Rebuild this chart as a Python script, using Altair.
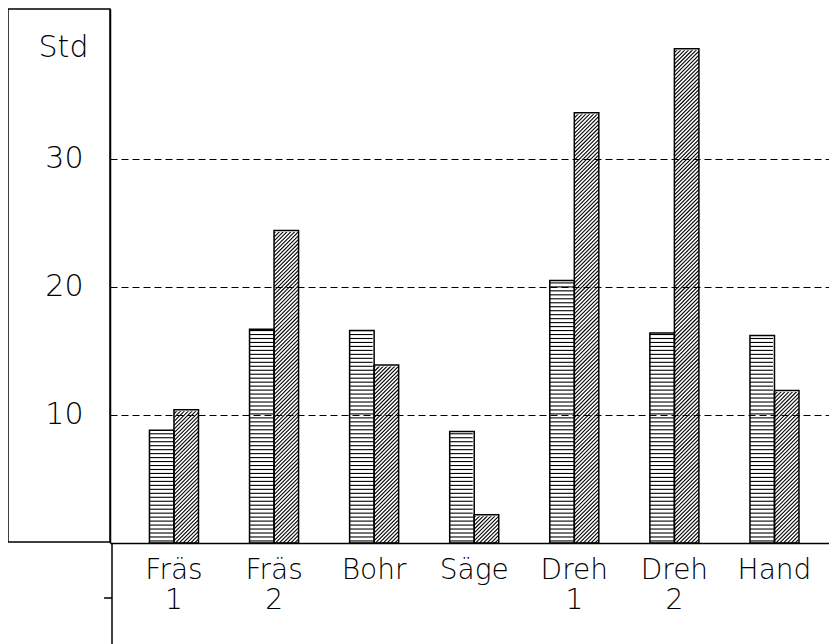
import altair as alt
import pandas as pd

# ---- data ----
categories = ["Fräs 1", "Fräs 2", "Bohr", "Säge", "Dreh 1", "Dreh 2", "Hand"]
series_a = [8.8, 16.7, 16.6, 8.7, 20.5, 16.4, 16.2]    # horizontally striped bars
series_b = [10.4, 24.4, 13.9, 2.2, 33.6, 38.6, 11.9]   # diagonally hatched bars
y_ticks = [10, 20, 30]
y_title = "Std"

rows = []
for c, a, b in zip(categories, series_a, series_b):
    rows.append({"cat": c, "series": "A", "value": a})
    rows.append({"cat": c, "series": "B", "value": b})
df = pd.DataFrame(rows)

W, H = 719, 534
Y_MAX = 41.7
FONT = "DejaVu Sans"
BAR_PX = 24.5

x_axis = alt.Axis(
    labelAngle=0, labelExpr="split(datum.label, ' ')", labelFont=FONT,
    labelFontSize=28, labelColor="black", labelPadding=13, labelLineHeight=30,
    labelFontWeight=200, ticks=False, domainColor="black", domainWidth=1.5,
    grid=False, zindex=1, title=None,
)
y_axis = alt.Axis(
    values=y_ticks, title=y_title, titleAngle=0, titleX=-47, titleY=38,
    titleAlign="center", titleBaseline="middle", titleFont=FONT, titleFontSize=30,
    titleFontWeight=200, titleColor="black",
    labelFont=FONT, labelFontSize=30, labelFontWeight=200, labelColor="black",
    labelPadding=27, ticks=False, domainColor="black", domainWidth=1.5,
    grid=True, gridColor="black", gridDash=[7, 4], gridWidth=1, gridOpacity=1,
    zindex=1,
)

x_scale = alt.Scale(paddingInner=0.51, paddingOuter=0.347, align=0.568)
y_scale = alt.Scale(domain=[0, Y_MAX], nice=False, zero=True)

x_enc = alt.X("cat:N", sort=categories, scale=x_scale, axis=x_axis)
xo = alt.XOffset("series:N", sort=["A", "B"],
                 scale=alt.Scale(paddingInner=0, paddingOuter=0))


def y_enc(field):
    return alt.Y(field, scale=y_scale, axis=y_axis)


base = alt.Chart(df)

bars_fill = base.mark_bar(color="white").encode(x=x_enc, xOffset=xo, y=y_enc("value:Q"))

stripes = (
    base.transform_filter("datum.series == 'A'")
    .transform_calculate(value="sequence(0.16, datum.value, 0.31)")
    .transform_flatten(["value"])
    .mark_point(shape="M -1 0 L 1 0", size=BAR_PX ** 2, filled=False,
                stroke="black", strokeWidth=1.1, opacity=1, clip=True)
    .encode(x=x_enc, xOffset=xo, y=y_enc("value:Q"))
)

hatch = (
    base.transform_filter("datum.series == 'B'")
    .transform_calculate(value="sequence(-0.95, datum.value + 1.0, 0.3)")
    .transform_flatten(["value"])
    .mark_point(shape="M -1 1 L 1 -1", size=BAR_PX ** 2, filled=False,
                stroke="black", strokeWidth=1.1, opacity=1, clip=True)
    .encode(x=x_enc, xOffset=xo, y=y_enc("value:Q"))
)

cover = (
    base.transform_filter("datum.series == 'B'")
    .mark_rect(fill="white", stroke="white", strokeWidth=3)
    .encode(x=x_enc, xOffset=xo, y=y_enc("value:Q"), y2=alt.datum(Y_MAX))
)

outline = base.mark_bar(fillOpacity=0, stroke="black", strokeWidth=1.5).encode(
    x=x_enc, xOffset=xo, y=y_enc("value:Q")
)

frame_df = pd.DataFrame({"k": [0]})
left_box = alt.Chart(frame_df).mark_rect(
    fillOpacity=0, stroke="black", strokeWidth=1.5
).encode(x=alt.value(-102), x2=alt.value(0), y=alt.value(0), y2=alt.value(533))

bottom_line = alt.Chart(frame_df).mark_rule(color="black", strokeWidth=1.5).encode(
    x=alt.value(2), y=alt.value(534), y2=alt.value(640)
)
small_tick = alt.Chart(frame_df).mark_rule(color="black", strokeWidth=1.5).encode(
    x=alt.value(-6), x2=alt.value(2), y=alt.value(589)
)

chart = (
    alt.layer(bars_fill, stripes, hatch, cover, outline, left_box, bottom_line, small_tick)
    .properties(
        width=W, height=H,
        autosize=alt.AutoSizeParams(type="none"),
        padding={"left": 102, "top": 1, "right": 0, "bottom": 101},
    )
    .configure_view(stroke=None)
)

chart.save("out.html", embed_options={"renderer": "svg", "actions": False})
